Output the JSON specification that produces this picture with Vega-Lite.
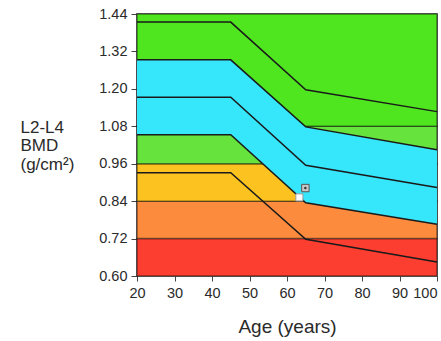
{
  "$schema": "https://vega.github.io/schema/vega-lite/v6.json",
  "width": 300,
  "height": 262,
  "autosize": {"type": "none"},
  "padding": {"left": 137, "top": 14, "right": 4, "bottom": 65},
  "config": {
    "font": "Liberation Sans",
    "view": {"stroke": "#444", "strokeWidth": 1.5},
    "axis": {
      "labelFont": "Liberation Sans", "titleFont": "Liberation Sans", "labelFlush": false, "labelOverlap": false,
      "labelFontSize": 14.5, "labelColor": "#2a2a2a", "tickColor": "#444", "domain": false,
      "grid": false, "titleFontWeight": "normal", "titleColor": "#2a2a2a", "tickSize": 6
    }
  },
  "datasets": {
    "bands": [
      {"age": 20, "age2": 100, "bmd": 0.60, "bmd2": 0.72, "zone": "red"},
      {"age": 20, "age2": 100, "bmd": 0.72, "bmd2": 0.84, "zone": "orange"},
      {"age": 20, "age2": 100, "bmd": 0.84, "bmd2": 0.96, "zone": "yellow"},
      {"age": 20, "age2": 100, "bmd": 0.96, "bmd2": 1.08, "zone": "lightgreen"},
      {"age": 20, "age2": 100, "bmd": 1.08, "bmd2": 1.44, "zone": "green"}
    ],
    "band1sd": [
      {"age": 20, "bmd": 1.053, "bmd2": 1.293},
      {"age": 45, "bmd": 1.053, "bmd2": 1.293},
      {"age": 65, "bmd": 0.835, "bmd2": 1.078},
      {"age": 100, "bmd": 0.766, "bmd2": 1.005}
    ],
    "curves": [
      {"age": 20, "curve": "+2SD", "bmd": 1.414},
      {"age": 45, "curve": "+2SD", "bmd": 1.414},
      {"age": 65, "curve": "+2SD", "bmd": 1.197},
      {"age": 100, "curve": "+2SD", "bmd": 1.127},
      {"age": 20, "curve": "+1SD", "bmd": 1.293},
      {"age": 45, "curve": "+1SD", "bmd": 1.293},
      {"age": 65, "curve": "+1SD", "bmd": 1.078},
      {"age": 100, "curve": "+1SD", "bmd": 1.005},
      {"age": 20, "curve": "mean", "bmd": 1.173},
      {"age": 45, "curve": "mean", "bmd": 1.173},
      {"age": 65, "curve": "mean", "bmd": 0.955},
      {"age": 100, "curve": "mean", "bmd": 0.884},
      {"age": 20, "curve": "-1SD", "bmd": 1.053},
      {"age": 45, "curve": "-1SD", "bmd": 1.053},
      {"age": 65, "curve": "-1SD", "bmd": 0.835},
      {"age": 100, "curve": "-1SD", "bmd": 0.766},
      {"age": 20, "curve": "-2SD", "bmd": 0.931},
      {"age": 45, "curve": "-2SD", "bmd": 0.931},
      {"age": 65, "curve": "-2SD", "bmd": 0.718},
      {"age": 100, "curve": "-2SD", "bmd": 0.645}
    ],
    "current": [{"age": 63.3, "bmd": 0.852}],
    "previous": [{"age": 64.9, "bmd": 0.882}]
  },
  "encoding": {
    "x": {
      "field": "age", "type": "quantitative",
      "scale": {"domain": [20, 100], "nice": false, "zero": false},
      "axis": {"values": [20, 30, 40, 50, 60, 70, 80, 90, 100], "labelPadding": 5, "tickSize": 5,
        "labelAlign": {"condition": {"test": "datum.value === 100", "value": "right"}, "value": "center"},
        "labelDx": {"condition": {"test": "datum.value === 100", "value": 3}, "value": 0},
        "title": "Age (years)", "titleFontSize": 19, "titleBaseline": "alphabetic", "titleY": 56}
    },
    "y": {
      "field": "bmd", "type": "quantitative",
      "scale": {"domain": [0.6, 1.44], "nice": false, "zero": false},
      "axis": {"values": [0.6, 0.72, 0.84, 0.96, 1.08, 1.2, 1.32, 1.44], "format": ".2f", "labelPadding": 4,
        "title": ["L2-L4", "BMD", "(g/cm²)"], "titleAngle": 0, "titleAlign": "left", "titleBaseline": "top",
        "titleX": -117, "titleY": 105, "titleFontSize": 17, "titleLineHeight": 18.5}
    }
  },
  "layer": [
    {
      "data": {"name": "bands"},
      "mark": {"type": "rect", "stroke": "#000", "strokeOpacity": 0.45, "strokeWidth": 1.5},
      "encoding": {
        "x2": {"field": "age2"},
        "y2": {"field": "bmd2"},
        "fill": {
          "field": "zone", "type": "nominal", "legend": null,
          "scale": {
            "domain": ["red", "orange", "yellow", "lightgreen", "green"],
            "range": ["#fc3e30", "#fd8b3d", "#fcc220", "#66e33c", "#4fe61f"]
          }
        }
      }
    },
    {
      "data": {"name": "band1sd"},
      "mark": {"type": "area", "color": "#36e6fb", "opacity": 1},
      "encoding": {"y2": {"field": "bmd2"}}
    },
    {
      "data": {"name": "curves"},
      "mark": {"type": "line", "color": "#1a1a1a", "strokeWidth": 1.5},
      "encoding": {"detail": {"field": "curve", "type": "nominal"}}
    },
    {
      "data": {"name": "current"},
      "mark": {"type": "square", "size": 50, "fill": "#ffffff", "stroke": "#9a9a9a", "strokeWidth": 1, "opacity": 1, "fillOpacity": 1},
      "encoding": {}
    },
    {
      "data": {"name": "previous"},
      "mark": {"type": "square", "size": 55, "fill": "#c8c8c8", "stroke": "#555555", "strokeWidth": 1, "opacity": 1, "fillOpacity": 1},
      "encoding": {}
    },
    {
      "data": {"name": "previous"},
      "mark": {"type": "circle", "size": 6, "color": "#333", "opacity": 1},
      "encoding": {}
    }
  ]
}
